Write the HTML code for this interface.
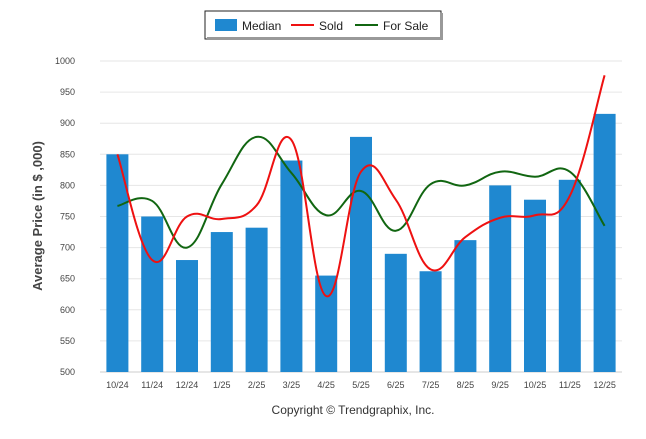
<!DOCTYPE html>
<html><head><meta charset="utf-8">
<style>
body{margin:0;background:#fff;font-family:"Liberation Sans",sans-serif;}
svg text{font-family:"Liberation Sans",sans-serif;}
</style></head>
<body>
<svg id="chart" width="646" height="434" viewBox="0 0 646 434" xmlns="http://www.w3.org/2000/svg">
<g id="grid"></g>
<g id="bars"></g>
<g id="lines"></g>
<g id="xlabels"></g>
<g id="ylabels"></g>
<text x="0" y="0" transform="translate(42,216) rotate(-90)" text-anchor="middle" font-size="13" font-weight="bold" fill="#444">Average Price (in $ ,000)</text>
<text x="353" y="414" text-anchor="middle" font-size="12" fill="#333">Copyright © Trendgraphix, Inc.</text>
<g>
<rect x="205" y="11" width="236" height="28" fill="#fff" stroke="#222" stroke-width="1"/>
<rect x="207" y="37" width="236" height="3" fill="#999"/>
<rect x="440" y="13" width="3" height="27" fill="#999"/>
<g><rect x="215" y="19" width="22" height="12" fill="#1f88d0"/><text x="242" y="30" font-size="12" fill="#222">Median</text></g>
<g><line x1="291" y1="25" x2="314" y2="25" stroke="#ee1111" stroke-width="2"/><text x="319" y="30" font-size="12" fill="#222">Sold</text></g>
<g><line x1="355" y1="25" x2="378" y2="25" stroke="#116611" stroke-width="2"/><text x="383" y="30" font-size="12" fill="#222">For Sale</text></g>
</g>
</svg>
<script>
const categories=["10/24","11/24","12/24","1/25","2/25","3/25","4/25","5/25","6/25","7/25","8/25","9/25","10/25","11/25","12/25"];
const medianValues=[850,750,680,725,732,840,655,878,690,662,712,800,777,809,915];
const soldValues=[850,680,750,746,768,873,622,822,777,665,717,748,752,783,977];
const forSaleValues=[767,775,700,802,878,820,752,791,727,802,800,822,814,822,735];
const yTicks=[500,550,600,650,700,750,800,850,900,950,1000];
const NS="http://www.w3.org/2000/svg";
const L=100,R=622,T=61,B=372;
const step=(R-L)/categories.length;
const x=i=>L+step*(i+0.5);
const y=v=>B-(v-500)/500*(B-T);
function el(tag,attrs,parent){const e=document.createElementNS(NS,tag);for(const k in attrs)e.setAttribute(k,attrs[k]);parent.appendChild(e);return e;}
const grid=document.getElementById('grid'),yl=document.getElementById('ylabels');
yTicks.forEach(t=>{
  const g=el('line',{x1:L,x2:R,y1:y(t),y2:y(t),stroke:t===500?'#ccc':'#e6e6e6','stroke-width':1},grid);
  
  
  const tx=el('text',{x:L-25,y:y(t)+3,'text-anchor':'end','font-size':9,fill:'#444'},yl);
  tx.textContent=t;
  
  
});
const bars=document.getElementById('bars'),xl=document.getElementById('xlabels');
categories.forEach((c,i)=>{
  const b=el('rect',{x:x(i)-11,y:y(medianValues[i]),width:22,height:B-y(medianValues[i]),fill:'#1f88d0'},bars);
  
  
  const t=el('text',{x:x(i),y:B+16,'text-anchor':'middle','font-size':9,fill:'#444'},xl);
  t.textContent=c;
  
  
});
function path(vals){
  const p=vals.map((v,i)=>[x(i),y(v)]);
  let d='M'+p[0][0]+','+p[0][1];
  const k=0.2;
  for(let i=0;i<p.length-1;i++){
    const p0=p[Math.max(0,i-1)],p1=p[i],p2=p[i+1],p3=p[Math.min(p.length-1,i+2)];
    const c1=[p1[0]+(p2[0]-p0[0])*k,p1[1]+(p2[1]-p0[1])*k];
    const c2=[p2[0]-(p3[0]-p1[0])*k,p2[1]-(p3[1]-p1[1])*k];
    d+=' C'+c1+' '+c2+' '+p2;
  }
  return d;
}
const lines=document.getElementById('lines');
const fs=el('path',{d:path(forSaleValues),fill:'none',stroke:'#116611','stroke-width':2},lines);


const sd=el('path',{d:path(soldValues),fill:'none',stroke:'#ee1111','stroke-width':2},lines);


</script>
</body></html>
